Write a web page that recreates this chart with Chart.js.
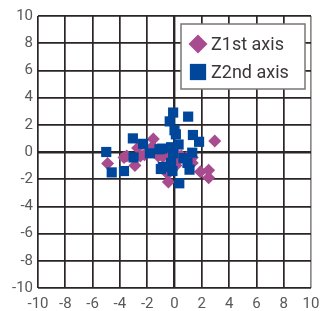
<!DOCTYPE html>
<html><head><meta charset="utf-8">
<script src="https://cdn.jsdelivr.net/npm/chart.js@4/dist/chart.umd.min.js"></script>
<style>html,body{margin:0;padding:0;background:#fff}</style>
</head><body>
<canvas id="c" width="320" height="311"></canvas>
<script>
const seriesNames = ['Z1st axis', 'Z2nd axis'];
const z1x = [-4.9, -3.7, -3.5, -2.9, -2.7, -2.5, -2.2, -1.55, -1.6, -1.2, -0.85, -0.5, -0.5, -0.45, -0.3, 0.1, 0.4, 0.5, 0.9, 1.3, 1.3, 1.9, 2.5, 2.5, 2.95, -0.2, 0.2];
const z1y = [-0.85, -0.4, -0.3, -1.0, 0.3, -0.3, -0.2, 0.95, 0.4, -0.3, -0.35, -0.1, -1.6, -2.2, -0.8, -1.0, -0.5, -0.3, -0.4, -0.4, -0.8, -1.45, -1.35, -1.9, 0.8, -1.3, -0.2];
const z2x = [-5.0, -4.6, -3.7, -3.05, -3.0, -2.3, -1.8, -1.1, -0.9, -1.0, -0.85, -0.1, -0.35, 1.0, 0.0, 0.1, 1.35, 1.8, 0.3, -0.25, -0.1, 1.3, 0.65, -0.25, 0.95, -0.15, 1.1, 0.35];
const z2y = [0.0, -1.5, -1.4, 1.0, -0.4, 0.6, -0.1, 0.2, 0.25, -1.25, -1.1, 2.9, 2.25, 2.6, 1.6, 1.3, 1.25, 0.75, 0.55, 0.35, -0.1, -0.05, -0.45, -0.8, -0.8, -1.4, -1.3, -2.3];
const tickValues = [-10, -8, -6, -4, -2, 0, 2, 4, 6, 8, 10];
const colors = ['#a84b8f', '#00479b'];
const styles = ['rectRot', 'rect'];

const toPts = (xs, ys) => xs.map((x, i) => ({x: x, y: ys[i]}));

const gridColor = (ctx) => (ctx.tick && ctx.tick.value === 10 && ctx.scale.axis === 'x') ? '#8e8a87' : '#2a2526';
const gridWidth = (ctx) => (ctx.tick && ctx.tick.value === 0) ? 2.4 : 1.7;

const legendPlugin = {
  id: 'boxLegend',
  afterDraw(chart) {
    const ctx = chart.ctx, ca = chart.chartArea;
    const bx = ca.right - 130, by = ca.top + 8, bw = 124, bh = 65;
    ctx.save();
    ctx.fillStyle = '#ffffff';
    ctx.fillRect(bx, by, bw, bh);
    ctx.strokeStyle = '#7a7674';
    ctx.lineWidth = 1.5;
    ctx.strokeRect(bx, by, bw, bh);
    chart.data.datasets.forEach((ds, i) => {
      const cy = by + 20 + i * 28;
      ctx.fillStyle = ds.backgroundColor;
      Chart.helpers.drawPoint(ctx, {pointStyle: ds.pointStyle, radius: i === 0 ? 9.5 : 11.5, borderWidth: 0, rotation: 0}, bx + 17, cy);
      ctx.fillStyle = '#3b3737';
      ctx.font = '18px Roboto';
      ctx.textBaseline = 'middle';
      ctx.textAlign = 'left';
      ctx.fillText(ds.label, bx + 30, cy + 1);
    });
    ctx.restore();
  }
};

new Chart(document.getElementById('c'), {
  type: 'scatter',
  data: {
    datasets: [
      {label: seriesNames[0], data: toPts(z1x, z1y), backgroundColor: colors[0], borderWidth: 0, pointStyle: styles[0], pointRadius: 6.5, pointHoverRadius: 6.5, order: 1},
      {label: seriesNames[1], data: toPts(z2x, z2y), backgroundColor: colors[1], borderWidth: 0, pointStyle: styles[1], pointRadius: 7.2, pointHoverRadius: 7.2, order: 0}
    ]
  },
  options: {
    responsive: false,
    animation: false,
    layout: {padding: {top: 16, right: 9, left: 0, bottom: 0}},
    plugins: {legend: {display: false}, tooltip: {enabled: false}},
    scales: {
      x: {
        type: 'linear', min: -10, max: 10,
        afterBuildTicks: (s) => { s.ticks = tickValues.map(v => ({value: v})); },
        afterFit: (s) => { s.height = 23; s.paddingLeft = 0; s.paddingRight = 0; },
        grid: {color: gridColor, lineWidth: gridWidth, drawTicks: false},
        border: {display: false},
        ticks: {color: '#58585a', font: {family: 'Roboto', size: 15}, padding: 7, maxRotation: 0, autoSkip: false}
      },
      y: {
        type: 'linear', min: -10, max: 10,
        afterBuildTicks: (s) => { s.ticks = tickValues.map(v => ({value: v})); },
        afterFit: (s) => { s.width = 38; s.paddingTop = 0; s.paddingBottom = 0; },
        grid: {color: gridColor, lineWidth: gridWidth, drawTicks: false},
        border: {display: false},
        ticks: {color: '#58585a', font: {family: 'Roboto', size: 15}, padding: 5, autoSkip: false}
      }
    }
  },
  plugins: [legendPlugin]
});
</script>
</body></html>
